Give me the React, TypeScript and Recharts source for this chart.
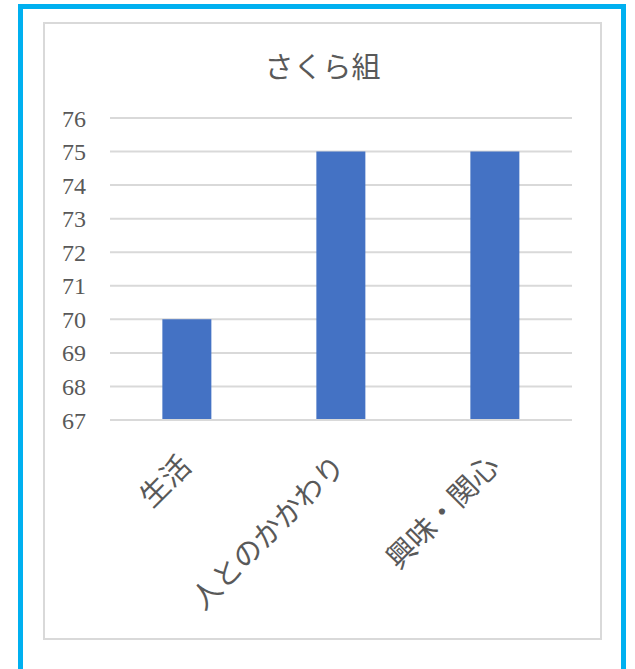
import React from "react";
import { BarChart, Bar, XAxis, YAxis, CartesianGrid } from "recharts";

const categories = ["生活", "人とのかかわり", "興味・関心"];
const scores = [70, 75, 75];
const yTicks = [67, 68, 69, 70, 71, 72, 73, 74, 75, 76];
const title = "さくら組";

const data = categories.map((name, i) => ({ name, value: scores[i] }));

const textColor = "#595959";

function CategoryTick(props: any) {
  const { x, y, payload } = props;
  const px = x + 6;
  const py = y + 40;
  return (
    <text
      x={px}
      y={py}
      transform={`rotate(-45, ${px}, ${py})`}
      textAnchor="end"
      fill={textColor}
      fontSize={29}
      fontFamily="'Noto Sans CJK JP', sans-serif"
    >
      {payload.value}
    </text>
  );
}

export default function App() {
  return (
    <div
      style={{
        position: "absolute",
        left: 0,
        top: 0,
        width: 635,
        height: 669,
        background: "#fff",
        overflow: "hidden",
      }}
    >
      <div
        style={{
          position: "absolute",
          left: 18,
          top: 4,
          width: 608,
          height: 670,
          border: "5px solid #00B0F0",
          boxSizing: "border-box",
        }}
      />
      <div
        style={{
          position: "absolute",
          left: 43,
          top: 22,
          width: 559,
          height: 618,
          border: "2px solid #d9d9d9",
          boxSizing: "border-box",
        }}
      />
      <div
        style={{
          position: "absolute",
          left: 43,
          width: 559,
          top: 44,
          textAlign: "center",
          fontFamily: "'Noto Sans CJK JP', sans-serif",
          fontSize: 29,
          color: textColor,
        }}
      >
        {title}
      </div>
      <div style={{ position: "absolute", left: 0, top: 0 }}>
        <BarChart
          width={635}
          height={669}
          data={data}
          margin={{ top: 118, right: 63, bottom: 49, left: 50 }}
          barCategoryGap="34%"
        >
          <CartesianGrid vertical={false} stroke="#d9d9d9" strokeWidth={2} />
          <XAxis
            dataKey="name"
            axisLine={{ stroke: "#d9d9d9", strokeWidth: 2 }}
            tickLine={false}
            interval={0}
            height={200}
            tick={<CategoryTick />}
          />
          <YAxis
            width={60}
            domain={[67, 76]}
            ticks={yTicks}
            axisLine={false}
            tickLine={false}
            tickMargin={18}
            tick={{
              fill: textColor,
              fontSize: 24,
              fontFamily: "'Liberation Serif', serif",
            }}
          />
          <Bar dataKey="value" fill="#4472C4" isAnimationActive={false} />
        </BarChart>
      </div>
    </div>
  );
}
